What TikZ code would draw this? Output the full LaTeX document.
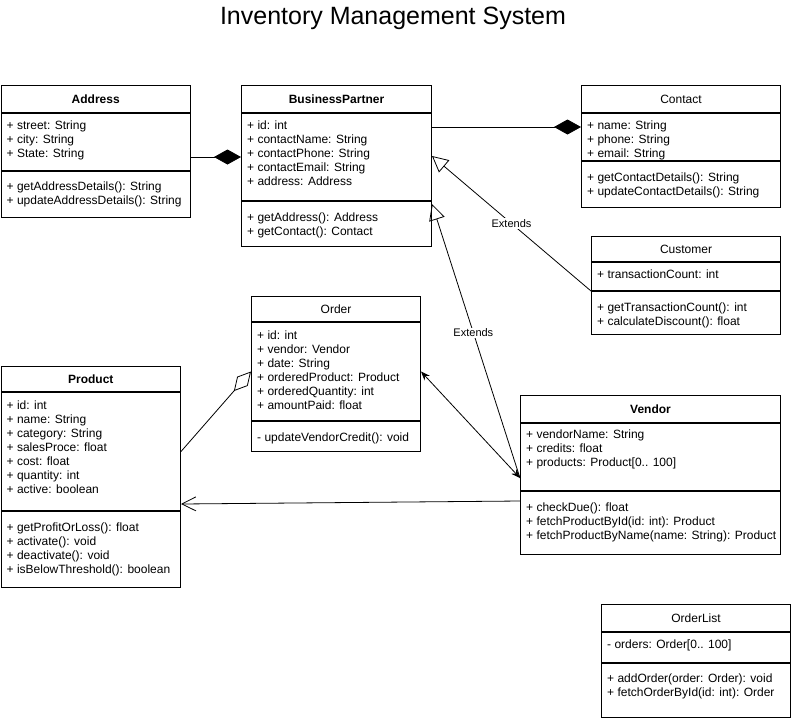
\documentclass[tikz,border=0pt]{standalone}
\usepackage{fontspec}
\setmainfont{Liberation Sans}
\usetikzlibrary{arrows.meta,positioning}

\tikzset{
  compart/.style={draw, line width=1pt, anchor=north west, inner sep=0pt},
  members/.style={anchor=north west, inner sep=0pt, align=left, font=\fontsize{12}{14}\selectfont},
  boldname/.style={font=\fontsize{12}{14}\selectfont\bfseries},
  plainname/.style={font=\fontsize{12}{14}\selectfont},
  link/.style={line width=0.8pt},
  compose/.style={link, -{Diamond[length=27pt,width=15pt]}},
  aggreg/.style={link, -{Diamond[open,length=26pt,width=14pt]}},
  extends/.style={link, -{Triangle[open,length=16pt,width=16pt]}},
  assoc/.style={link, {Stealth[length=9pt,width=7pt]}-{Stealth[length=9pt,width=7pt]}},
  uses/.style={link, -{Straight Barb[length=14pt,width=14pt]}},
  lbl/.style={fill=white, inner sep=1pt, font=\fontsize{11}{13}\selectfont}
}

\begin{document}
\begin{tikzpicture}[x=1pt,y=-1pt]
\useasboundingbox (0,0) rectangle (791,718);
\node[font=\fontsize{25}{29}\selectfont] (title) at (393,18) {Inventory Management System};

% Address
\node[compart, boldname, minimum width=189.5pt, minimum height=27pt] (addrT) at (0.5,85) {Address};
\node[compart, minimum width=189.5pt, minimum height=57pt] (addrA) at (addrT.south west) {};
\node[compart, minimum width=189.5pt, minimum height=46pt] (addrM) at (addrA.south west) {};
\node[members] (addrAt) at ([shift={(6,8)}]addrA.north west) {+ street: String\\+ city: String\\+ State: String};
\node[members] (addrMt) at ([shift={(6,11)}]addrM.north west) {+ getAddressDetails(): String\\+ updateAddressDetails(): String};

% BusinessPartner
\node[compart, boldname, minimum width=190pt, minimum height=27pt] (bpT) at (241,85) {BusinessPartner};
\node[compart, minimum width=190pt, minimum height=87pt] (bpA) at (bpT.south west) {};
\node[compart, minimum width=190pt, minimum height=45pt] (bpM) at (bpA.south west) {};
\node[members] (bpAt) at ([shift={(6,8)}]bpA.north west) {+ id: int\\+ contactName: String\\+ contactPhone: String\\+ contactEmail: String\\+ address: Address};
\node[members] (bpMt) at ([shift={(6,12)}]bpM.north west) {+ getAddress(): Address\\+ getContact(): Contact};

% Contact
\node[compart, plainname, minimum width=199pt, minimum height=27pt] (conT) at (581,85) {Contact};
\node[compart, minimum width=199pt, minimum height=47pt] (conA) at (conT.south west) {};
\node[compart, minimum width=199pt, minimum height=46pt] (conM) at (conA.south west) {};
\node[members] (conAt) at ([shift={(6,8)}]conA.north west) {+ name: String\\+ phone: String\\+ email: String};
\node[members] (conMt) at ([shift={(6,12)}]conM.north west) {+ getContactDetails(): String\\+ updateContactDetails(): String};

% Customer
\node[compart, plainname, minimum width=189pt, minimum height=25pt] (cusT) at (591,236) {Customer};
\node[compart, minimum width=189pt, minimum height=28pt] (cusA) at (cusT.south west) {};
\node[compart, minimum width=189pt, minimum height=43pt] (cusM) at (cusA.south west) {};
\node[members] (cusAt) at ([shift={(6,8)}]cusA.north west) {+ transactionCount: int};
\node[members] (cusMt) at ([shift={(6,12)}]cusM.north west) {+ getTransactionCount(): int\\+ calculateDiscount(): float};

% Order
\node[compart, plainname, minimum width=169pt, minimum height=25pt] (ordT) at (251,296) {Order};
\node[compart, minimum width=169pt, minimum height=98pt] (ordA) at (ordT.south west) {};
\node[compart, minimum width=169pt, minimum height=30pt] (ordM) at (ordA.south west) {};
\node[members] (ordAt) at ([shift={(6,9)}]ordA.north west) {+ id: int\\+ vendor: Vendor\\+ date: String\\+ orderedProduct: Product\\+ orderedQuantity: int\\+ amountPaid: float};
\node[members] (ordMt) at ([shift={(6,12)}]ordM.north west) {- updateVendorCredit(): void};

% Product
\node[compart, boldname, minimum width=179.5pt, minimum height=25pt] (proT) at (0.5,366) {Product};
\node[compart, minimum width=179.5pt, minimum height=118pt] (proA) at (proT.south west) {};
\node[compart, minimum width=179.5pt, minimum height=76pt] (proM) at (proA.south west) {};
\node[members] (proAt) at ([shift={(6,9)}]proA.north west) {+ id: int\\+ name: String\\+ category: String\\+ salesProce: float\\+ cost: float\\+ quantity: int\\+ active: boolean};
\node[members] (proMt) at ([shift={(6,12)}]proM.north west) {+ getProfitOrLoss(): float\\+ activate(): void\\+ deactivate(): void\\+ isBelowThreshold(): boolean};

% Vendor
\node[compart, boldname, minimum width=260pt, minimum height=27pt] (venT) at (520,395) {Vendor};
\node[compart, minimum width=260pt, minimum height=67pt] (venA) at (venT.south west) {};
\node[compart, minimum width=260pt, minimum height=63pt] (venM) at (venA.south west) {};
\node[members] (venAt) at ([shift={(6,7)}]venA.north west) {+ vendorName: String\\+ credits: float\\+ products: Product[0.. 100]};
\node[members] (venMt) at ([shift={(6,12)}]venM.north west) {+ checkDue(): float\\+ fetchProductById(id: int): Product\\+ fetchProductByName(name: String): Product};

% OrderList
\node[compart, plainname, minimum width=189pt, minimum height=27pt] (olT) at (601,604) {OrderList};
\node[compart, minimum width=189pt, minimum height=30pt] (olA) at (olT.south west) {};
\node[compart, minimum width=189pt, minimum height=54pt] (olM) at (olA.south west) {};
\node[members] (olAt) at ([shift={(6,8)}]olA.north west) {- orders: Order[0.. 100]};
\node[members] (olMt) at ([shift={(6,11)}]olM.north west) {+ addOrder(order: Order): void\\+ fetchOrderById(id: int): Order};

% connectors
\coordinate (conIn) at ([shift={(0,-10)}]conA.west);
\coordinate (venIn) at ([shift={(0,-13)}]venA.south west);
\draw[compose] (bpA.west -| addrA.east) -- (bpA.west);
\draw[compose] (bpA.east |- conIn) -- (conIn);
\draw[extends] (cusA.south west) -- node[lbl, pos=0.5] {Extends} ([shift={(0,-1)}]bpA.east);
\draw[extends] (venIn) -- node[lbl, pos=0.53] {Extends} ([shift={(0,3)}]bpM.north east);
\draw[assoc] (ordA.east) -- (venIn);
\draw[uses] ([shift={(0,10)}]venM.north west) -- ([shift={(0,-7)}]proA.south east);
\draw[aggreg] (proA.east) -- (ordA.west);
\end{tikzpicture}
\end{document}
